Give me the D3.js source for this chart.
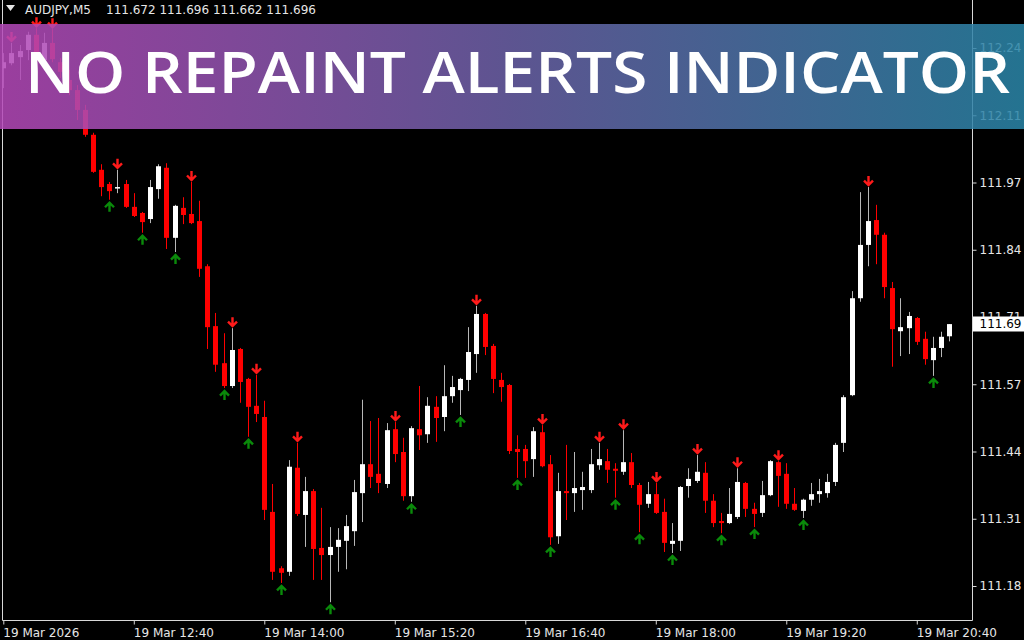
<!DOCTYPE html>
<html>
<head>
<meta charset="utf-8">
<script src="https://cdn.jsdelivr.net/npm/d3@7"></script>
<style>
  html, body { margin: 0; padding: 0; background: #000; overflow: hidden; }
  svg { display: block; }
</style>
</head>
<body>
<div id="chart"></div>
<script>
'use strict';

// symbol header
const symbolName = 'AUDJPY,M5';
const headerQuote = ['111.672', '111.696', '111.662', '111.696'];

// OHLC of each M5 bar, first bar 19 Mar 11:20
const opens = [
    112.200, 112.210, 112.222, 112.236, 112.266, 112.216, 112.250, 112.212, 112.177, 112.157,
    112.118, 112.069, 112.000, 111.972, 111.964, 111.972, 111.927, 111.915, 111.903, 111.962,
    112.004, 111.866, 111.925, 111.913, 111.899, 111.810, 111.692, 111.619, 111.574, 111.647,
    111.588, 111.535, 111.513, 111.326, 111.215, 111.208, 111.413, 111.320, 111.367, 111.255,
    111.241, 111.257, 111.269, 111.288, 111.363, 111.420, 111.401, 111.381, 111.489, 111.444,
    111.357, 111.489, 111.479, 111.533, 111.513, 111.554, 111.566, 111.586, 111.637, 111.716,
    111.653, 111.586, 111.576, 111.450, 111.450, 111.430, 111.483, 111.420, 111.278, 111.367,
    111.363, 111.369, 111.369, 111.418, 111.426, 111.411, 111.405, 111.424, 111.379, 111.342,
    111.361, 111.326, 111.263, 111.269, 111.377, 111.387, 111.403, 111.348, 111.308, 111.304,
    111.316, 111.383, 111.332, 111.324, 111.359, 111.424, 111.401, 111.342, 111.328, 111.350,
    111.361, 111.363, 111.385, 111.462, 111.556, 111.747, 111.852, 111.901, 111.872, 111.767,
    111.682, 111.688, 111.708, 111.667, 111.625, 111.649, 111.672
];
const highs = [
    112.230, 112.250, 112.246, 112.272, 112.279, 112.270, 112.277, 112.220, 112.197, 112.167,
    112.128, 112.073, 112.011, 111.976, 112.000, 111.980, 111.954, 111.917, 111.980, 112.011,
    112.013, 111.931, 111.946, 111.976, 111.939, 111.814, 111.718, 111.678, 111.688, 111.649,
    111.590, 111.596, 111.545, 111.381, 111.219, 111.428, 111.462, 111.395, 111.371, 111.334,
    111.296, 111.294, 111.320, 111.389, 111.547, 111.505, 111.511, 111.501, 111.503, 111.472,
    111.495, 111.574, 111.552, 111.554, 111.615, 111.594, 111.590, 111.690, 111.732, 111.718,
    111.657, 111.600, 111.578, 111.477, 111.458, 111.493, 111.497, 111.438, 111.403, 111.458,
    111.444, 111.405, 111.450, 111.462, 111.450, 111.422, 111.487, 111.442, 111.383, 111.385,
    111.383, 111.352, 111.304, 111.377, 111.412, 111.438, 111.424, 111.361, 111.324, 111.373,
    111.412, 111.385, 111.344, 111.387, 111.428, 111.426, 111.422, 111.373, 111.352, 111.383,
    111.391, 111.401, 111.462, 111.556, 111.761, 111.956, 111.966, 111.931, 111.876, 111.779,
    111.747, 111.720, 111.710, 111.681, 111.671, 111.681, 111.696
];
const lows = [
    112.161, 112.206, 112.177, 112.216, 112.212, 112.206, 112.212, 112.181, 112.147, 112.098,
    112.065, 111.994, 111.948, 111.941, 111.954, 111.925, 111.907, 111.876, 111.895, 111.943,
    111.844, 111.838, 111.893, 111.893, 111.789, 111.647, 111.602, 111.570, 111.570, 111.541,
    111.474, 111.503, 111.310, 111.192, 111.186, 111.200, 111.318, 111.257, 111.192, 111.192,
    111.148, 111.208, 111.213, 111.259, 111.306, 111.373, 111.363, 111.373, 111.424, 111.348,
    111.346, 111.448, 111.462, 111.464, 111.485, 111.541, 111.517, 111.564, 111.600, 111.635,
    111.560, 111.543, 111.440, 111.393, 111.393, 111.395, 111.414, 111.261, 111.263, 111.310,
    111.326, 111.330, 111.363, 111.409, 111.383, 111.354, 111.399, 111.373, 111.286, 111.334,
    111.322, 111.247, 111.245, 111.249, 111.354, 111.383, 111.324, 111.296, 111.284, 111.302,
    111.312, 111.316, 111.296, 111.316, 111.357, 111.336, 111.332, 111.328, 111.314, 111.338,
    111.344, 111.354, 111.377, 111.444, 111.554, 111.740, 111.810, 111.814, 111.747, 111.612,
    111.633, 111.637, 111.655, 111.616, 111.594, 111.631, 111.662
];
const closes = [
    112.212, 112.230, 112.234, 112.266, 112.220, 112.250, 112.218, 112.193, 112.157, 112.118,
    112.069, 111.996, 111.966, 111.958, 111.966, 111.927, 111.909, 111.897, 111.966, 112.007,
    111.866, 111.929, 111.911, 111.895, 111.805, 111.690, 111.616, 111.574, 111.645, 111.582,
    111.533, 111.519, 111.330, 111.208, 111.206, 111.415, 111.322, 111.367, 111.253, 111.241,
    111.257, 111.271, 111.298, 111.365, 111.420, 111.395, 111.383, 111.487, 111.440, 111.357,
    111.491, 111.477, 111.535, 111.511, 111.554, 111.572, 111.588, 111.641, 111.716, 111.651,
    111.588, 111.572, 111.446, 111.444, 111.426, 111.485, 111.416, 111.276, 111.367, 111.363,
    111.373, 111.375, 111.420, 111.430, 111.409, 111.407, 111.424, 111.379, 111.340, 111.361,
    111.324, 111.265, 111.269, 111.375, 111.391, 111.405, 111.348, 111.304, 111.304, 111.322,
    111.385, 111.332, 111.322, 111.359, 111.426, 111.397, 111.342, 111.330, 111.350, 111.361,
    111.367, 111.385, 111.458, 111.552, 111.747, 111.852, 111.899, 111.872, 111.769, 111.686,
    111.690, 111.712, 111.661, 111.627, 111.649, 111.671, 111.696
];

// indicator signals (bar indices)
const sellArrows = [1, 4, 6, 14, 23, 28, 31, 36, 48, 58, 66, 73, 76, 80, 85, 90, 95, 106];
const buyArrows = [13, 17, 21, 27, 30, 34, 40, 50, 56, 63, 67, 75, 78, 82, 88, 92, 98, 114];

// axes
const timeTickBars = [0, 16, 32, 48, 64, 80, 96, 112];
const timeTickLabels = ['19 Mar 2026', '19 Mar 12:40', '19 Mar 14:00', '19 Mar 15:20',
    '19 Mar 16:40', '19 Mar 18:00', '19 Mar 19:20', '19 Mar 20:40'];
const priceTickLabels = ['112.24', '112.11', '111.97', '111.84', '111.71', '111.57',
    '111.44', '111.31', '111.18'];
const bidLabel = '111.69';

const bannerTitle = 'NO REPAINT ALERTS INDICATOR';

(function() {

    const width = 1024;
    const height = 640;
    const plotRight = 972;
    const plotBottom = 620.5;

    const svg = d3.select('#chart').append('svg')
        .attr('width', width)
        .attr('height', height)
        .style('background', '#000');

    const x = d3.scaleLinear().domain([0, 116]).range([3.3, 949.4]);
    const top = +priceTickLabels[0];
    const bottom = +priceTickLabels[priceTickLabels.length - 1];
    const y = d3.scaleLinear().domain([bottom, top]).range([586, 48]);
    const step = (top - bottom) / (priceTickLabels.length - 1);
    const priceTicks = priceTickLabels.map((l, k) => top - k * step);

    const bars = opens.map((o, i) => ({
        i: i, o: o, h: highs[i], l: lows[i], c: closes[i], up: closes[i] >= o
    }));

    svg.append('clipPath').attr('id', 'plot')
        .append('rect').attr('x', 3).attr('y', 0)
        .attr('width', plotRight - 3).attr('height', plotBottom);

    const plot = svg.append('g').attr('clip-path', 'url(#plot)');
    const px = (i) => Math.round(x(i));

    // wicks
    plot.selectAll('line.wick').data(bars).enter().append('line')
        .attr('class', 'wick')
        .attr('x1', (d) => px(d.i) + 0.5)
        .attr('x2', (d) => px(d.i) + 0.5)
        .attr('y1', (d) => y(d.h))
        .attr('y2', (d) => y(d.l))
        .attr('stroke', (d) => d.up ? '#b8b8b8' : '#ff0000')
        .attr('stroke-width', 1);

    // bodies
    plot.selectAll('rect.body').data(bars).enter().append('rect')
        .attr('class', 'body')
        .attr('x', (d) => px(d.i) - 2)
        .attr('width', 5)
        .attr('y', (d) => y(Math.max(d.o, d.c)))
        .attr('height', (d) => Math.max(1.5, Math.abs(y(d.o) - y(d.c))))
        .attr('fill', (d) => d.up ? '#ffffff' : '#ff0000');

    // sell arrows above the high
    const sell = plot.selectAll('g.sell').data(sellArrows).enter().append('g')
        .attr('transform', (i) => `translate(${px(i) + 0.5}, ${y(highs[i]) - 1})`);
    sell.append('path')
        .attr('d', 'M0,-10 L0,-1 M-4.5,-5.5 L0,-1 L4.5,-5.5')
        .attr('fill', 'none')
        .attr('stroke', '#ff1a1a')
        .attr('stroke-width', 2.4)
        .attr('stroke-linejoin', 'miter');

    // buy arrows below the low
    const buy = plot.selectAll('g.buy').data(buyArrows).enter().append('g')
        .attr('transform', (i) => `translate(${px(i) + 0.5}, ${y(lows[i]) + 2})`);
    buy.append('path')
        .attr('d', 'M0,10 L0,1 M-4.5,5.5 L0,1 L4.5,5.5')
        .attr('fill', 'none')
        .attr('stroke', '#0a8a0a')
        .attr('stroke-width', 2.4)
        .attr('stroke-linejoin', 'miter');

    // frame
    const frameColor = '#d8d8d8';
    svg.append('line').attr('x1', 2.5).attr('x2', 2.5).attr('y1', 0).attr('y2', plotBottom)
        .attr('stroke', frameColor);
    svg.append('line').attr('x1', 2.5).attr('x2', plotRight + 0.5)
        .attr('y1', plotBottom).attr('y2', plotBottom).attr('stroke', frameColor);
    svg.append('line').attr('x1', plotRight + 0.5).attr('x2', plotRight + 0.5)
        .attr('y1', 0).attr('y2', plotBottom).attr('stroke', frameColor);

    const labelFont = '"DejaVu Sans", Tahoma, sans-serif';
    const labelColor = '#e6e6e6';

    // price axis
    const yAxis = d3.axisRight(y)
        .tickValues(priceTicks)
        .tickFormat((v, k) => priceTickLabels[k])
        .tickSize(4)
        .tickPadding(3);
    const yg = svg.append('g')
        .attr('transform', `translate(${plotRight + 0.5}, 0)`)
        .call(yAxis);
    yg.select('.domain').remove();
    yg.selectAll('line').attr('stroke', frameColor);
    yg.selectAll('text')
        .attr('fill', labelColor)
        .style('font-family', labelFont)
        .style('font-size', '12px');

    // time axis
    const xAxis = d3.axisBottom(x)
        .tickValues(timeTickBars)
        .tickFormat((v, k) => timeTickLabels[k])
        .tickSize(4)
        .tickPadding(4);
    const xg = svg.append('g')
        .attr('transform', `translate(0, ${plotBottom})`)
        .call(xAxis);
    xg.select('.domain').remove();
    xg.selectAll('line').attr('stroke', frameColor);
    xg.selectAll('text')
        .attr('fill', labelColor)
        .attr('text-anchor', 'start')
        .attr('x', -0.5)
        .style('font-family', labelFont)
        .style('font-size', '12px');

    // bid label, drawn over the price tick it hides
    const bidY = y(closes[closes.length - 1]);
    svg.append('rect')
        .attr('x', plotRight + 1).attr('y', Math.round(bidY) - 7.5)
        .attr('width', width - plotRight).attr('height', 15)
        .attr('fill', '#ffffff');
    svg.append('text')
        .attr('x', plotRight + 7.5).attr('y', bidY)
        .attr('dy', '0.32em')
        .attr('fill', '#000')
        .style('font-family', labelFont)
        .style('font-size', '12px')
        .text(bidLabel);

    // header
    svg.append('path')
        .attr('d', 'M6,5 L15,5 L10.5,11 Z')
        .attr('fill', labelColor);
    svg.append('text')
        .attr('x', 25).attr('y', 14)
        .attr('fill', labelColor)
        .style('font-family', labelFont)
        .style('font-size', '12px')
        .text(symbolName);
    svg.append('text')
        .attr('x', 106).attr('y', 14)
        .attr('fill', labelColor)
        .style('font-family', labelFont)
        .style('font-size', '12px')
        .text(headerQuote.join(' '));

    // banner
    const grad = svg.append('defs').append('linearGradient')
        .attr('id', 'bannerGrad')
        .attr('x1', '0%').attr('x2', '100%').attr('y1', '0%').attr('y2', '0%');
    grad.append('stop').attr('offset', '0%').attr('stop-color', '#b448b8');
    grad.append('stop').attr('offset', '50%').attr('stop-color', '#6c62a8');
    grad.append('stop').attr('offset', '100%').attr('stop-color', '#2a86a8');
    svg.append('rect')
        .attr('x', 0).attr('y', 24)
        .attr('width', width).attr('height', 105)
        .attr('fill', 'url(#bannerGrad)')
        .attr('opacity', 0.86);
    svg.append('text')
        .attr('x', 25).attr('y', 93)
        .attr('textLength', 985)
        .attr('lengthAdjust', 'spacingAndGlyphs')
        .attr('fill', '#ffffff')
        .style('font-family', '"Open Sans", "DejaVu Sans", sans-serif')
        .style('font-weight', 600)
        .style('font-size', '57px')
        .text(bannerTitle);

}());
</script>
</body>
</html>
